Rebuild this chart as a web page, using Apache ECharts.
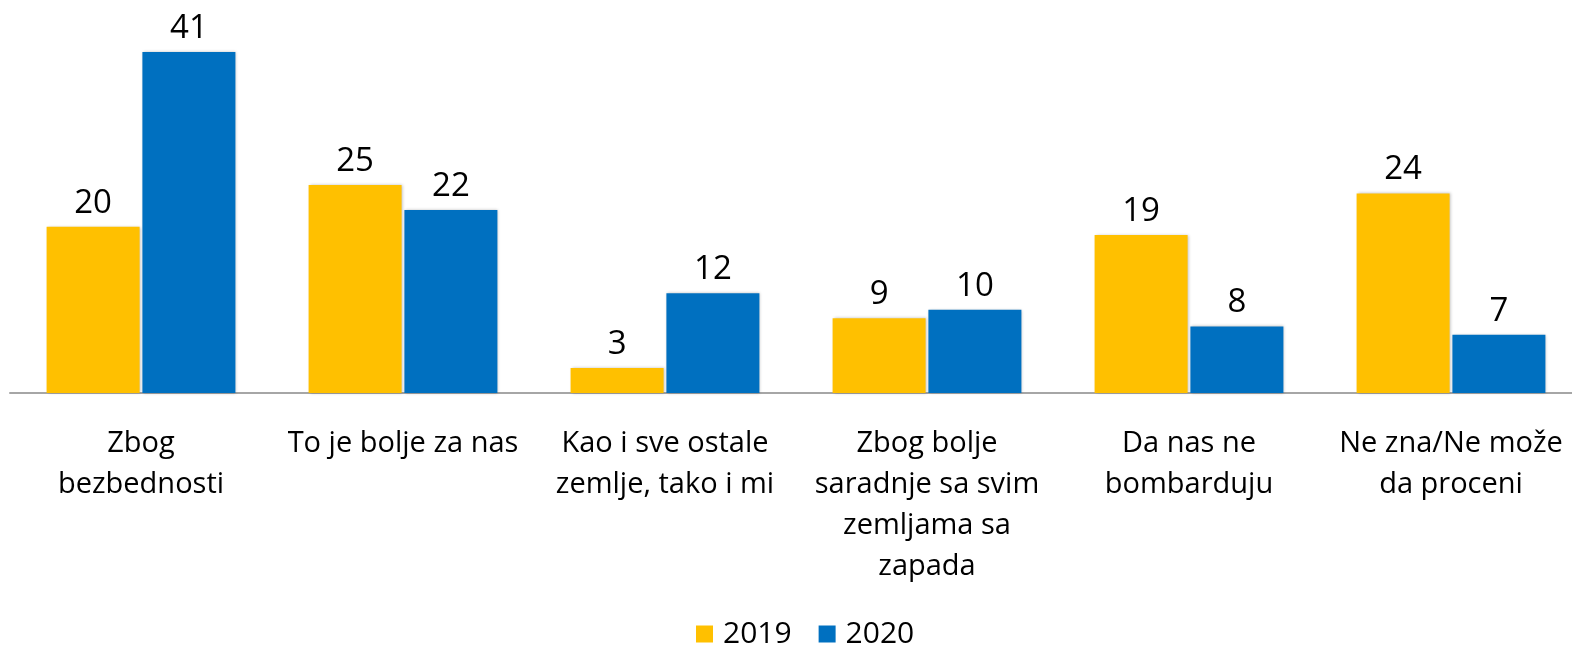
<!DOCTYPE html>
<html>
<head>
<meta charset="utf-8">
<script src="https://cdn.jsdelivr.net/npm/echarts@6/dist/echarts.min.js"></script>
<style>
  html, body { margin: 0; padding: 0; background: #fff; }
  #chart { width: 1572px; height: 647px; }
</style>
</head>
<body>
<div id="chart"></div>
<script>
// podaci
var categories = [
  'Zbog\nbezbednosti',
  'To je bolje za nas',
  'Kao i sve ostale\nzemlje, tako i mi',
  'Zbog bolje\nsaradnje sa svim\nzemljama sa\nzapada',
  'Da nas ne\nbombarduju',
  'Ne zna/Ne može\nda proceni'
];
var values2019 = [20, 25, 3, 9, 19, 24];
var values2020 = [41, 22, 12, 10, 8, 7];
var seriesNames = ['2019', '2020'];

var fontFam = '"Open Sans", sans-serif';

var chart = echarts.init(document.getElementById('chart'));

var barStyle = function (color) {
  return {
    color: color,
    shadowColor: 'rgba(0,0,0,0.25)',
    shadowBlur: 3,
    shadowOffsetX: 1,
    shadowOffsetY: 0
  };
};

var valueLabel = {
  show: true,
  position: 'top',
  distance: 7,
  color: '#000',
  fontSize: 33,
  fontFamily: fontFam
};

chart.setOption({
  animation: false,
  grid: { left: 10, width: 1572, top: 52, bottom: 254, containLabel: false, outerBoundsMode: 'none' },
  legend: {
    data: seriesNames,
    top: 614,
    left: 691,
    itemWidth: 17,
    itemHeight: 17,
    itemGap: 27,
    icon: 'rect',
    textStyle: { fontSize: 30, color: '#000', fontFamily: fontFam, padding: [0, 0, 0, 5] }
  },
  xAxis: {
    type: 'category',
    data: categories,
    axisLine: { lineStyle: { color: '#a6a6a6', width: 2 } },
    axisTick: { show: false },
    axisLabel: {
      interval: 0,
      margin: 30,
      color: '#000',
      fontSize: 29,
      lineHeight: 41,
      fontFamily: fontFam
    }
  },
  yAxis: {
    type: 'value',
    min: 0,
    max: 41,
    show: false,
    splitLine: { show: false }
  },
  series: [
    {
      name: seriesNames[0],
      type: 'bar',
      data: values2019,
      barWidth: '35.5%',
      barGap: '3%',
      itemStyle: barStyle('#ffc000'),
      label: valueLabel
    },
    {
      name: seriesNames[1],
      type: 'bar',
      data: values2020,
      barWidth: '35.5%',
      itemStyle: barStyle('#0070c0'),
      label: valueLabel
    }
  ]
});
</script>
</body>
</html>
